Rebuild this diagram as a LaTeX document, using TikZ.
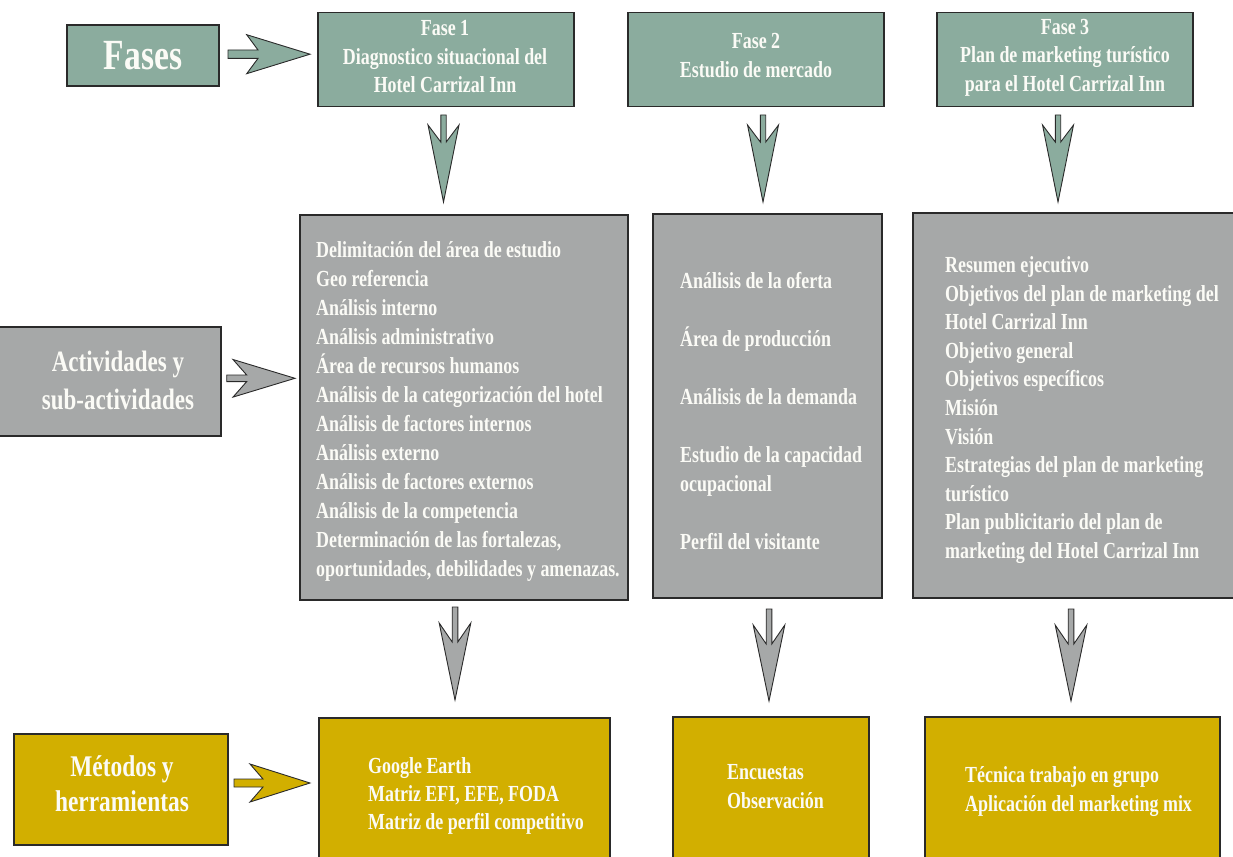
\documentclass[tikz,border=0pt]{standalone}
\usepackage{fontspec}
\setmainfont{Liberation Serif}[FakeStretch=0.78]
\usetikzlibrary{calc}
\definecolor{tealc}{HTML}{8BAC9E}
\definecolor{greyc}{HTML}{A6A8A8}
\definecolor{goldc}{HTML}{D2AF00}
\definecolor{edgec}{HTML}{2A2A2A}
\definecolor{txtc}{HTML}{FBFBF6}
% vertical block arrow: x, top, barb y, notch y, tip y, barb half, shaft half, style
\newcommand\vblk[8]{\filldraw[#8] ({#1-#7},#2) -- ({#1+#7},#2) -- ({#1+#7},#4) -- ({#1+#6},#3) -- (#1,#5) -- ({#1-#6},#3) -- ({#1-#7},#4) -- cycle;}
% horizontal block arrow: left x, centre y, barb x, notch x, tip x, barb half, shaft half, style
\newcommand\hblk[8]{\filldraw[#8] (#1,{#2-#7}) -- (#1,{#2+#7}) -- (#4,{#2+#7}) -- (#3,{#2+#6}) -- (#5,#2) -- (#3,{#2-#6}) -- (#4,{#2-#7}) -- cycle;}
\tikzset{
  box/.style={draw=edgec, line width=1.1pt, inner sep=0pt, outer sep=0pt},
  tealbox/.style={box, fill=tealc},
  greybox/.style={box, fill=greyc},
  goldbox/.style={box, fill=goldc},
  body/.style={text=txtc, inner sep=0pt, align=left, anchor=west, font=\bfseries\fontsize{23}{29}\selectfont},
  title/.style={text=txtc, inner sep=0pt, align=center, font=\bfseries\fontsize{23}{28.5}\selectfont},
  tealarr/.style={fill=tealc, draw=edgec, line width=0.9pt, line join=miter},
  greyarr/.style={fill=greyc, draw=edgec, line width=0.9pt, line join=miter},
  goldarr/.style={fill=goldc, draw=edgec, line width=0.9pt, line join=miter},
}
\begin{document}
\begin{tikzpicture}[x=1pt, y=-1pt]
\useasboundingbox (0,0) rectangle (1233,856);
\fill[white] (0,0) rectangle (1233,856);

% ---------- row 1: phases ----------
\node[tealbox, minimum width=152pt, minimum height=61pt] (fases) at (143,55.5) {};
\node[text=txtc, inner sep=0pt, font=\bfseries\fontsize{43}{43}\selectfont] (fasestxt) at (143,56) {Fases};
\node[tealbox, minimum width=256pt, minimum height=94pt] (fase1) at (446,59.7) {};
\node[title] (fase1txt) at (445,57) {Fase 1\\Diagnostico situacional del\\Hotel Carrizal Inn};
\node[tealbox, minimum width=256pt, minimum height=94pt] (fase2) at (756,59.7) {};
\node[title] (fase2txt) at (756,55.5) {Fase 2\\Estudio de mercado};
\node[tealbox, minimum width=256pt, minimum height=94pt] (fase3) at (1065,59.7) {};
\node[title] (fase3txt) at (1065,57.5) {Fase 3\\Plan de marketing turístico\\para el Hotel Carrizal Inn};

\hblk{228}{54.2}{246.7}{258}{310}{19.5}{4.2}{tealarr}
\vblk{443.5}{115}{125}{142}{202}{15.5}{2.7}{tealarr}
\vblk{763}{115}{125}{142}{202}{15.5}{2.7}{tealarr}
\vblk{1058}{115}{125}{142}{202}{15.5}{2.7}{tealarr}

% ---------- row 2: activities ----------
\node[greybox, minimum width=223pt, minimum height=109pt] (act) at (109.5,381.5) {};
\node[text=txtc, inner sep=0pt, align=center, font=\bfseries\fontsize{29.5}{38}\selectfont] (acttxt) at (118,380) {Actividades y\\sub-actividades};
\hblk{226.7}{378.3}{233}{246.7}{295}{18.8}{3.3}{greyarr}

\node[greybox, minimum width=328pt, minimum height=385pt] (act1) at (464,407.5) {};
\node[body] (act1txt) at (316,411) {Delimitación del área de estudio\\Geo referencia\\Análisis interno\\Análisis administrativo\\Área de recursos humanos\\Análisis de la categorización del hotel\\Análisis de factores internos\\Análisis externo\\Análisis de factores externos\\Análisis de la competencia\\Determinación de las fortalezas,\\oportunidades, debilidades y amenazas.};

\node[greybox, minimum width=229pt, minimum height=384pt] (act2) at (767.5,406) {};
\node[body] (act2txt) at (680,411) {Análisis de la oferta\\[29pt]Área de producción\\[29pt]Análisis de la demanda\\[29pt]Estudio de la capacidad\\ocupacional\\[29pt]Perfil del visitante};

\node[greybox, minimum width=325pt, minimum height=385pt] (act3) at (1075.5,405.5) {};
\node[body, font=\bfseries\fontsize{23}{28.6}\selectfont] (act3txt) at (945,410) {Resumen ejecutivo\\Objetivos del plan de marketing del\\Hotel Carrizal Inn\\Objetivo general\\Objetivos específicos\\Misión\\Visión\\Estrategias del plan de marketing\\turístico\\Plan publicitario del plan de\\marketing del Hotel Carrizal Inn};

\vblk{455}{607}{623}{642}{700}{15.8}{2.8}{greyarr}
\vblk{769}{609}{625}{644}{701}{15.8}{2.8}{greyarr}
\vblk{1071}{609}{625}{644}{701}{15.8}{2.8}{greyarr}

% ---------- row 3: methods ----------
\node[goldbox, minimum width=214pt, minimum height=111pt] (met) at (121,789.5) {};
\node[text=txtc, inner sep=0pt, align=center, font=\bfseries\fontsize{30}{35}\selectfont] (mettxt) at (122,784) {Métodos y\\herramientas};
\hblk{234}{783}{250}{263}{310}{19}{4}{goldarr}

\node[goldbox, minimum width=291pt, minimum height=152pt] (met1) at (464.5,794) {};
\node[body, font=\bfseries\fontsize{23}{28}\selectfont] (met1txt) at (368,796) {Google Earth\\Matriz EFI, EFE, FODA\\Matriz de perfil competitivo};
\node[goldbox, minimum width=196pt, minimum height=153pt] (met2) at (771,793.5) {};
\node[body, font=\bfseries\fontsize{23}{28.5}\selectfont] (met2txt) at (727,786.5) {Encuestas\\Observación};
\node[goldbox, minimum width=295pt, minimum height=153pt] (met3) at (1072.5,793.5) {};
\node[body, font=\bfseries\fontsize{23}{28.5}\selectfont] (met3txt) at (965,791.5) {Técnica trabajo en grupo\\Aplicación del marketing mix};
\end{tikzpicture}
\end{document}
